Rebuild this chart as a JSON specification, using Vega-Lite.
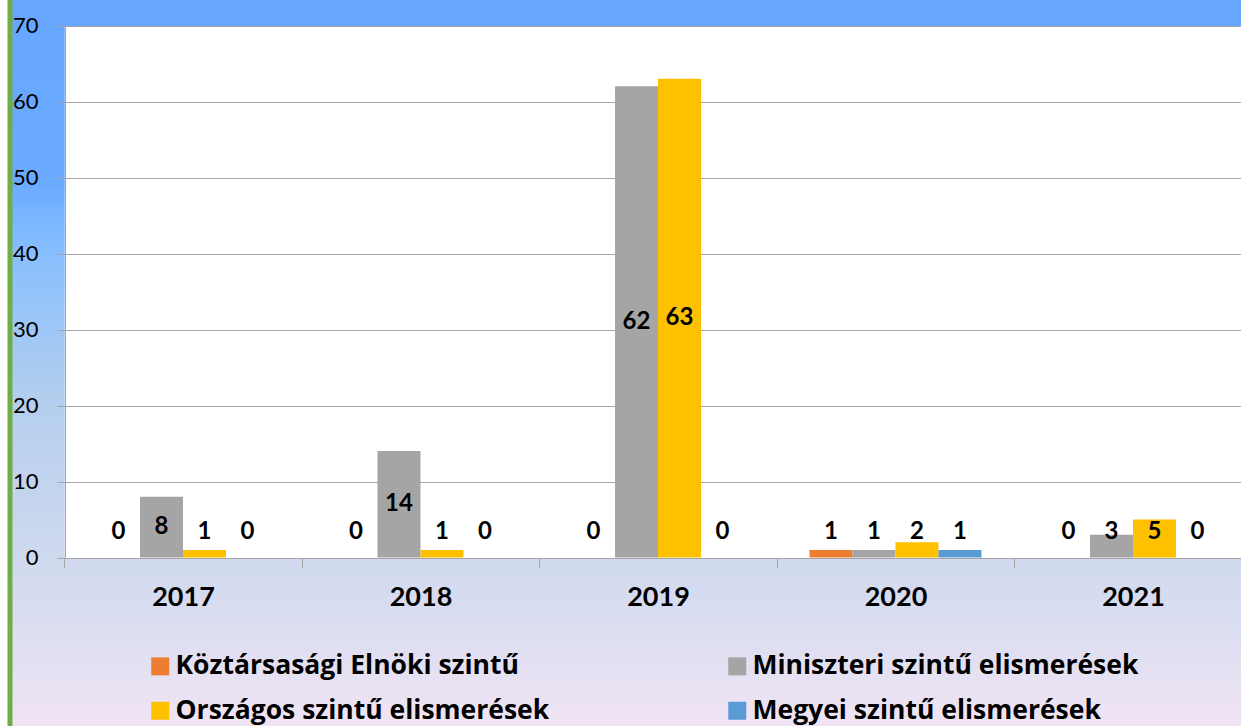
{
  "$schema": "https://vega.github.io/schema/vega-lite/v6.json",
  "width": 1231,
  "height": 726,
  "autosize": {"type": "none"},
  "padding": {"left": 10, "top": 0, "right": 0, "bottom": 0},
  "background": "white",
  "view": {
    "stroke": "#70AD47",
    "strokeWidth": 5,
    "strokeDash": [0, 3188, 726],
    "fill": {
      "gradient": "linear",
      "x1": 0, "y1": 0, "x2": 0, "y2": 1,
      "stops": [
        {"offset": 0, "color": "#66A6FF"},
        {"offset": 0.25, "color": "#6AAAFF"},
        {"offset": 0.35, "color": "#88BFFF"},
        {"offset": 0.55, "color": "#B3CEEE"},
        {"offset": 0.75, "color": "#CDD8EE"},
        {"offset": 0.87, "color": "#DCDEF1"},
        {"offset": 1, "color": "#F0E4F4"}
      ]
    }
  },
  "config": {"font": "Lato"},
  "datasets": {
    "awards": [
      {"year": "2017", "series": "Köztársasági Elnöki szintű", "value": 0},
      {"year": "2017", "series": "Miniszteri szintű elismerések", "value": 8},
      {"year": "2017", "series": "Országos szintű elismerések", "value": 1},
      {"year": "2017", "series": "Megyei szintű elismerések", "value": 0},
      {"year": "2018", "series": "Köztársasági Elnöki szintű", "value": 0},
      {"year": "2018", "series": "Miniszteri szintű elismerések", "value": 14},
      {"year": "2018", "series": "Országos szintű elismerések", "value": 1},
      {"year": "2018", "series": "Megyei szintű elismerések", "value": 0},
      {"year": "2019", "series": "Köztársasági Elnöki szintű", "value": 0},
      {"year": "2019", "series": "Miniszteri szintű elismerések", "value": 62},
      {"year": "2019", "series": "Országos szintű elismerések", "value": 63},
      {"year": "2019", "series": "Megyei szintű elismerések", "value": 0},
      {"year": "2020", "series": "Köztársasági Elnöki szintű", "value": 1},
      {"year": "2020", "series": "Miniszteri szintű elismerések", "value": 1},
      {"year": "2020", "series": "Országos szintű elismerések", "value": 2},
      {"year": "2020", "series": "Megyei szintű elismerések", "value": 1},
      {"year": "2021", "series": "Köztársasági Elnöki szintű", "value": 0},
      {"year": "2021", "series": "Miniszteri szintű elismerések", "value": 3},
      {"year": "2021", "series": "Országos szintű elismerések", "value": 5},
      {"year": "2021", "series": "Megyei szintű elismerések", "value": 0}
    ]
  },
  "resolve": {"axis": {"y": "independent"}},
  "layer": [
    {
      "data": {"name": "awards"},
      "mark": {"type": "bar"},
      "encoding": {
        "x": {
          "field": "year", "type": "nominal",
          "scale": {"paddingInner": 0, "paddingOuter": 0, "range": [54.25, 1241.75]},
          "axis": {
            "orient": "bottom",
            "offset": -168,
            "zindex": 1,
            "title": null,
            "grid": false,
            "labelAngle": 0,
            "labelFont": "Lato",
            "labelFontWeight": "bold",
            "labelFontSize": 27,
            "labelColor": "black",
            "labelPadding": 16,
            "domainColor": "#A6A6A6",
            "tickColor": "#A6A6A6",
            "tickSize": 10,
            "tickBand": "extent"
          }
        },
        "xOffset": {
          "field": "series", "type": "nominal",
          "scale": {
            "domain": ["Köztársasági Elnöki szintű", "Miniszteri szintű elismerések", "Országos szintű elismerések", "Megyei szintű elismerések"],
            "paddingInner": 0, "paddingOuter": 0.762
          }
        },
        "y": {
          "field": "value", "type": "quantitative",
          "scale": {"domain": [0, 70], "nice": false, "range": [557.5, 25.5]},
          "axis": {
            "orient": "left",
            "offset": -55,
            "title": null,
            "values": [35],
            "labels": false,
            "ticks": false,
            "domain": false,
            "grid": true,
            "gridColor": "white",
            "gridOpacity": 1,
            "gridWidth": 532
          }
        },
        "color": {
          "field": "series", "type": "nominal",
          "scale": {
            "domain": ["Köztársasági Elnöki szintű", "Miniszteri szintű elismerések", "Országos szintű elismerések", "Megyei szintű elismerések"],
            "range": ["#ED7D31", "#A5A5A5", "#FFC000", "#5B9BD5"]
          },
          "legend": {
            "title": null,
            "orient": "none",
            "legendX": 137,
            "legendY": 653,
            "columns": 2,
            "direction": "horizontal",
            "padding": 0,
            "symbolType": "square",
            "symbolSize": 324,
            "symbolStrokeWidth": 0,
            "symbolOpacity": 1,
            "labelFont": "Open Sans",
            "labelFontWeight": "bold",
            "labelFontSize": 26.5,
            "labelColor": "black",
            "labelOffset": 2,
            "labelLimit": 600,
            "rowPadding": 17.5,
            "columnPadding": 174
          }
        }
      }
    },
    {
      "data": {"name": "awards"},
      "transform": [{"calculate": "max(datum.value / 2, 3.4)", "as": "labelY"}],
      "mark": {"type": "text", "font": "Lato", "fontWeight": "bold", "fontSize": 24, "color": "black", "baseline": "middle"},
      "encoding": {
        "x": {"field": "year", "type": "nominal"},
        "xOffset": {"field": "series", "type": "nominal"},
        "y": {
          "field": "labelY", "type": "quantitative",
          "axis": {
            "orient": "left",
            "offset": -55,
            "title": null,
            "values": [0, 10, 20, 30, 40, 50, 60, 70],
            "labelFont": "Lato",
            "labelFontSize": 22,
            "labelColor": "black",
            "labelPadding": 19,
            "tickSize": 8,
            "tickColor": "#A6A6A6",
            "domainColor": "#A6A6A6",
            "grid": true,
            "gridColor": "#A6A6A6",
            "gridOpacity": 1
          }
        },
        "text": {"field": "value", "type": "quantitative"}
      }
    }
  ]
}
